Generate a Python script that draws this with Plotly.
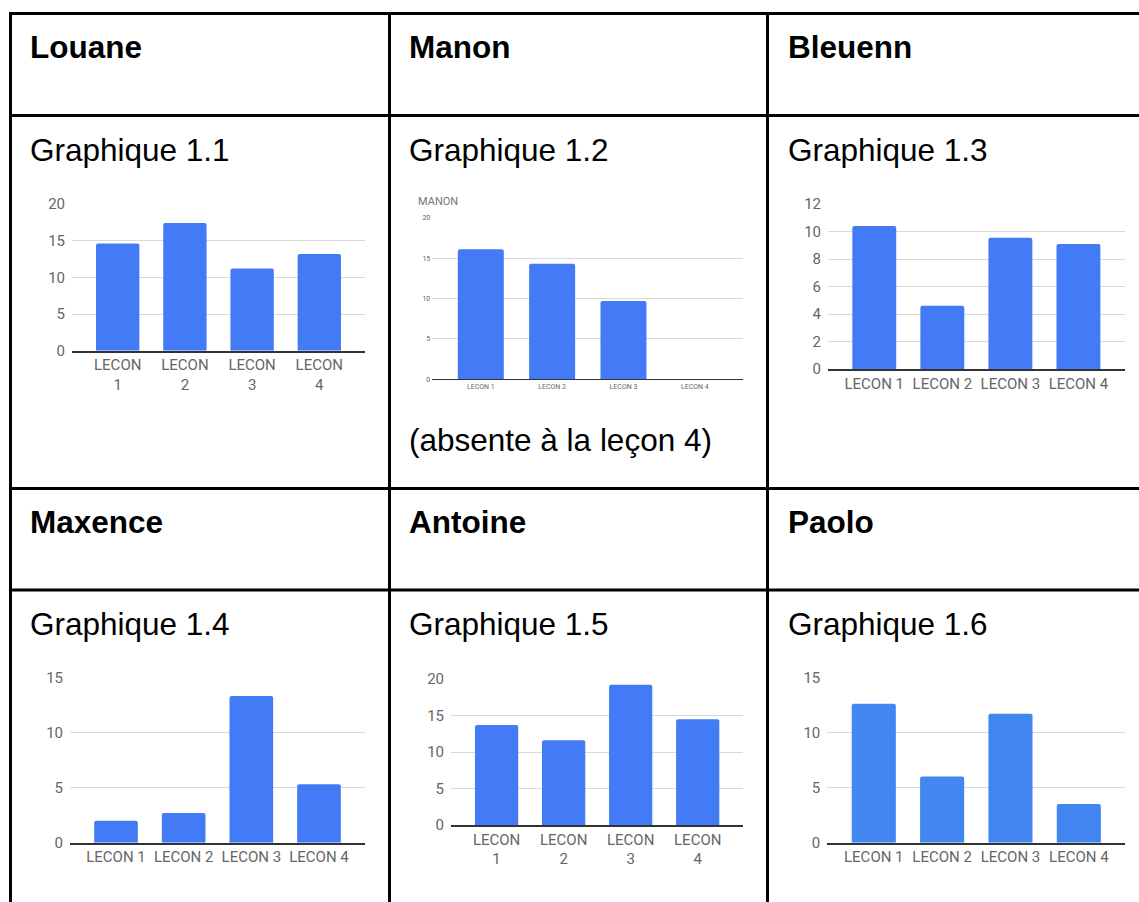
import plotly.graph_objects as go

W, H = 1139, 902

categories = ["LECON 1", "LECON 2", "LECON 3", "LECON 4"]
labels_wrapped = ["LECON<br>1", "LECON<br>2", "LECON<br>3", "LECON<br>4"]

louane = [14.6, 17.4, 11.2, 13.2]
manon = [16.1, 14.3, 9.7, None]
bleuenn = [10.4, 4.6, 9.55, 9.1]
maxence = [2.0, 2.7, 13.3, 5.3]
antoine = [13.7, 11.6, 19.2, 14.5]
paolo = [12.6, 6.0, 11.7, 3.5]

names = ["Louane", "Manon", "Bleuenn", "Maxence", "Antoine", "Paolo"]
graph_titles = ["Graphique 1.1", "Graphique 1.2", "Graphique 1.3",
                "Graphique 1.4", "Graphique 1.5", "Graphique 1.6"]
note_manon = "(absente à la leçon 4)"
manon_chart_title = "MANON"

series = [louane, manon, bleuenn, maxence, antoine, paolo]
tick_labels = [labels_wrapped, categories, categories, categories, labels_wrapped, categories]
y_max = [20, 20, 12, 15, 20, 15]
y_step = [5, 5, 2, 5, 5, 5]

# pixel boxes of the plot areas: (left, right, top, bottom)
boxes = [
    (72, 365, 204, 350.7),
    (432.3, 743.3, 217.7, 379.3),
    (828, 1124.7, 204, 369),
    (70, 365, 677.3, 842.7),
    (451, 743.3, 679, 825),
    (827.3, 1125.3, 677.3, 842.7),
]
bar_colors = ["#427BF5", "#427BF5", "#427BF5", "#427BF5", "#427BF5", "#4286F1"]
tick_sizes = [15, 7, 15, 15, 15, 15]
x_pad = 0.18  # category padding at both ends of each chart

FONT = "Liberation Sans, Arial, sans-serif"
CHART_FONT = "Roboto, Arial, sans-serif"

fig = go.Figure()
layout = dict(
    width=W, height=H,
    margin=dict(l=0, r=0, t=0, b=0, pad=0, autoexpand=False),
    paper_bgcolor="white", plot_bgcolor="white",
    showlegend=False, bargap=0.355,
)

for i, (vals, box) in enumerate(zip(series, boxes)):
    n = i + 1
    xa = "x" if n == 1 else f"x{n}"
    ya = "y" if n == 1 else f"y{n}"
    fig.add_trace(go.Bar(
        x=categories, y=vals, xaxis=xa, yaxis=ya,
        marker=dict(color=bar_colors[i], line=dict(width=0), cornerradius=2),
        hoverinfo="x+y",
    ))
    l, r, t, b = box
    small = tick_sizes[i] < 10
    layout[f"xaxis{n if n > 1 else ''}"] = dict(
        domain=[l / W, r / W], anchor=ya, automargin=False,
        range=[-0.5 - x_pad, len(categories) - 0.5 + x_pad],
        tickmode="array", tickvals=categories, ticktext=tick_labels[i],
        showgrid=False, zeroline=False,
        showline=True, linecolor="#333333", linewidth=1.5 if not small else 1,
        ticks="", tickfont=dict(family=CHART_FONT, size=tick_sizes[i], color="#666666"),
        fixedrange=True,
    )
    layout[f"yaxis{n if n > 1 else ''}"] = dict(
        domain=[1 - b / H, 1 - t / H], anchor=xa, automargin=False,
        range=[0, y_max[i]], dtick=y_step[i], tick0=0,
        showgrid=True, gridcolor="#d9d9d9", gridwidth=1,
        zeroline=False, showline=False, ticks="",
        ticklabelstandoff=1 if small else 6,
        tickfont=dict(family=CHART_FONT, size=tick_sizes[i], color="#666666"),
        fixedrange=True,
    )

fig.update_layout(**layout)

# table grid
shapes = []
h_lines = [13.5, 115.5, 488.5, 590]
v_lines = [10.5, 389.5, 767.5]
for y in h_lines:
    shapes.append(dict(type="line", xref="paper", yref="paper",
                       x0=9 / W, x1=1.0, y0=1 - y / H, y1=1 - y / H,
                       line=dict(color="black", width=3)))
for x in v_lines:
    shapes.append(dict(type="line", xref="paper", yref="paper",
                       x0=x / W, x1=x / W, y0=1 - 12 / H, y1=0,
                       line=dict(color="black", width=3)))
fig.update_layout(shapes=shapes)

col_x = [28, 407, 786]
name_y = [47, 47, 47, 522, 522, 522]
title_y = [150, 150, 150, 624, 624, 624]
annotations = []
for i in range(6):
    x = col_x[i % 3]
    annotations.append(dict(text=f"<b>{names[i]}</b>", x=x / W, y=1 - name_y[i] / H,
                            xref="paper", yref="paper", xanchor="left", yanchor="middle",
                            showarrow=False, font=dict(family=FONT, size=31.5, color="black")))
    annotations.append(dict(text=graph_titles[i], x=x / W, y=1 - title_y[i] / H,
                            xref="paper", yref="paper", xanchor="left", yanchor="middle",
                            showarrow=False, font=dict(family=FONT, size=31.5, color="black")))
annotations.append(dict(text=note_manon, x=407 / W, y=1 - 440 / H,
                        xref="paper", yref="paper", xanchor="left", yanchor="middle",
                        showarrow=False, font=dict(family=FONT, size=31.5, color="black")))
annotations.append(dict(text=manon_chart_title, x=416 / W, y=1 - 201 / H,
                        xref="paper", yref="paper", xanchor="left", yanchor="middle",
                        showarrow=False, font=dict(family=CHART_FONT, size=11, color="#757575")))
fig.update_layout(annotations=annotations)

pin_script = (
    "document.documentElement.style.margin='0';"
    "document.documentElement.style.padding='0';"
    "document.documentElement.style.overflow='hidden';"
    "document.body.style.margin='0';"
    "document.body.style.padding='0';"
    "document.body.style.overflow='hidden';"
    "var gd=document.getElementById('{plot_id}');"
    "gd.style.position='fixed';gd.style.top='0px';gd.style.left='0px';"
)

fig.write_html("out.html", config={"displayModeBar": False}, post_script=pin_script)
